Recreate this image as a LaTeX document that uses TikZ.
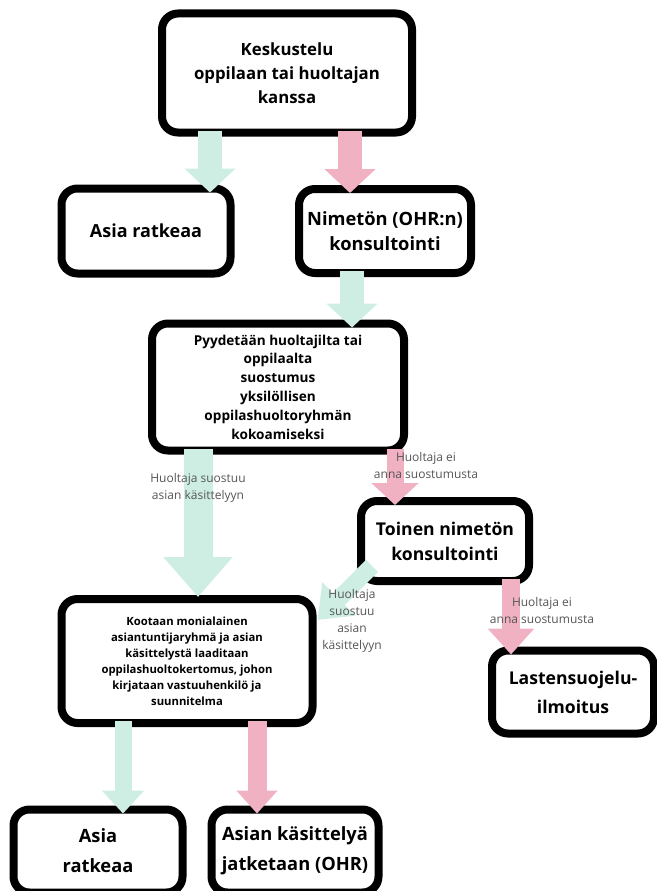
\documentclass[tikz,border=0pt]{standalone}
\usepackage{fontspec}
\setmainfont{Open Sans}
\usetikzlibrary{arrows.meta}
\definecolor{mint}{RGB}{206,238,227}
\definecolor{rose}{RGB}{240,178,194}
\definecolor{notegray}{RGB}{85,85,85}
\tikzset{main box/.style={draw=black,fill=white,line width=8pt,rounded corners=16pt,align=center,inner sep=0pt},
	mint arrow/.style={draw=mint,line width=24pt,-{Triangle[length=24pt,width=50pt]},shorten <=-6pt,shorten >=-8pt},
	pink arrow/.style={mint arrow,draw=rose},
	note/.style={text=notegray,align=center,font=\fontsize{12}{17}\selectfont},
}

\begin{document}
\begin{tikzpicture}[x=1pt,y=-1pt]
	\useasboundingbox (0,0) rectangle (656,891);
	
	\node[main box,minimum width=250pt,minimum height=119pt,font=\bfseries\fontsize{16.8}{24}\selectfont] (talk) at (287,73) {Keskustelu\\oppilaan tai huoltajan\\kanssa};
	\node[main box,minimum width=169pt,minimum height=85pt,font=\bfseries\fontsize{18}{25}\selectfont] (solved) at (146,231) {Asia ratkeaa};
	\node[main box,minimum width=172pt,minimum height=84pt,font=\bfseries\fontsize{18.3}{25}\selectfont] (anon) at (385,231) {Nimetön (OHR:n)\\konsultointi};
	\node[main box,minimum width=252pt,minimum height=127pt,font=\bfseries\fontsize{13.6}{18.8}\selectfont] (consent) at (278,387) {Pyydetään huoltajilta tai\\oppilaalta\\suostumus\\yksilöllisen\\oppilashuoltoryhmän\\kokoamiseksi};
	\node[main box,minimum width=168pt,minimum height=80pt,font=\bfseries\fontsize{17.6}{25}\selectfont] (anon2) at (445,541) {Toinen nimetön\\konsultointi};
	\node[main box,minimum width=251pt,minimum height=124pt,font=\bfseries\fontsize{11.3}{16}\selectfont] (group) at (187,661) {Kootaan monialainen\\asiantuntijaryhmä ja asian\\käsittelystä laaditaan\\oppilashuoltokertomus, johon\\kirjataan vastuuhenkilö ja\\suunnitelma};
	\node[main box,minimum width=162pt,minimum height=83pt,font=\bfseries\fontsize{17.6}{29}\selectfont] (report) at (573,692) {Lastensuojelu-\\ilmoitus};
	\node[main box,minimum width=169pt,minimum height=83pt,font=\bfseries\fontsize{18.3}{30}\selectfont] (solved2) at (98,851) {Asia\\ratkeaa};
	\node[main box,minimum width=167pt,minimum height=83pt,font=\bfseries\fontsize{18.3}{30}\selectfont] (goon) at (295,851) {Asian käsittelyä\\jatketaan (OHR)};
	
	% arrow start points
	\coordinate (s1) at ([xshift=-77pt]talk.south);
	\coordinate (s2) at ([xshift=63pt]talk.south);
	\coordinate (s3) at ([xshift=-33pt]anon.south);
	\coordinate (s4) at ([xshift=-80pt]consent.south);
	\coordinate (s5) at ([xshift=117pt]consent.south);
	\coordinate (s6) at ([shift={(-73,25)}]anon2.center);
	\coordinate (e6) at ([shift={(1,-41)}]group.east);
	\coordinate (s7) at ([xshift=66pt]anon2.south);
	\coordinate (s8) at ([xshift=-64pt]group.south);
	\coordinate (s9) at ([xshift=70pt]group.south);
	
	\draw[mint arrow] (s1) -- (s1 |- solved.north);
	\draw[pink arrow] (s2) -- (s2 |- anon.north);
	\draw[mint arrow] (s3) -- (s3 |- consent.north);
	\draw[mint arrow,line width=29pt,-{Triangle[length=40pt,width=67pt]},shorten >=-2pt] (s4) -- (s4 |- group.north);
	\draw[pink arrow,line width=17pt,-{Triangle[length=22pt,width=46pt]}] (s5) -- (s5 |- anon2.north);
	\draw[mint arrow,line width=17pt,-{Triangle[length=30pt,width=45pt]},shorten <=0pt,shorten >=0pt] (s6) -- (e6);
	\draw[pink arrow,line width=18pt,-{Triangle[length=26pt,width=45pt]}] (s7) -- (s7 |- report.north);
	\draw[mint arrow,line width=17pt,-{Triangle[length=23pt,width=41pt]}] (s8) -- (s8 |- solved2.north);
	\draw[pink arrow,line width=19pt,-{Triangle[length=23pt,width=40pt]}] (s9) -- (s9 |- goon.north);
	
	\node[note] (yes1) at (198,488) {Huoltaja suostuu\\asian käsittelyyn};
	\node[note] (no1) at (426,465) {Huoltaja ei\\anna suostumusta};
	\node[note] (yes2) at (352,621) {Huoltaja\\suostuu\\asian\\käsittelyyn};
	\node[note] (no2) at (542,610) {Huoltaja ei\\anna suostumusta};
\end{tikzpicture}
\end{document}
